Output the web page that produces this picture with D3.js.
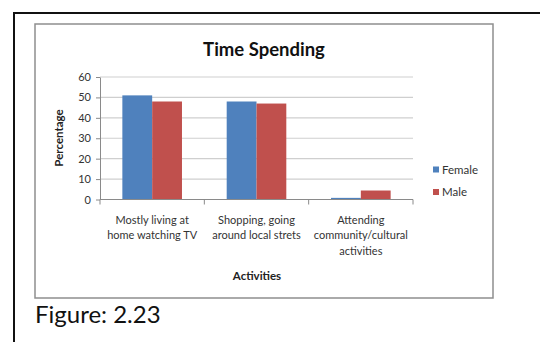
<!DOCTYPE html>
<html>
<head>
<meta charset="utf-8">
<script src="https://cdn.jsdelivr.net/npm/d3@7"></script>
<style>
  html, body { margin: 0; padding: 0; background: #fff; }
  svg { display: block; font-family: Lato, "Open Sans", sans-serif; }
</style>
</head>
<body>
<svg id="chart" width="540" height="342"></svg>
<script>
// Survey data: share of respondents by leisure activity
const categories = [
  ["Mostly living at", "home watching TV"],
  ["Shopping, going", "around local strets"],
  ["Attending", "community/cultural", "activities"]
];
const seriesNames = ["Female", "Male"];
const femaleValues = [51, 48, 0.8];
const maleValues = [48, 47, 4.4];
const yTicks = [0, 10, 20, 30, 40, 50, 60];
const seriesColors = ["#4f81bd", "#c0504d"];

const svg = d3.select("#chart");

// Page frame and chart container
svg.append("path")
  .attr("d", "M14,342 L14,13 L540,13")
  .attr("fill", "none")
  .attr("stroke", "#111")
  .attr("stroke-width", 2);

svg.append("rect")
  .attr("x", 35).attr("y", 24)
  .attr("width", 458).attr("height", 274)
  .attr("fill", "#fff")
  .attr("stroke", "#8e8e8e")
  .attr("stroke-width", 1.5);

svg.append("text")
  .attr("x", 35).attr("y", 323)
  .attr("font-size", 24)
  .attr("fill", "#111")
  .text("Figure: 2.23");

// Plot area
const plot = { left: 100, right: 413, top: 77, bottom: 199.5 };

const x = d3.scaleBand()
  .domain(d3.range(categories.length))
  .range([plot.left, plot.right])
  .paddingInner(0).paddingOuter(0);

const y = d3.scaleLinear()
  .domain([0, 60])
  .range([plot.bottom, plot.top]);

// Excel-style clustered bars with 150% gap width
const gapRatio = 1.5;
const barW = x.bandwidth() / (seriesNames.length + gapRatio);
const inner = d3.scaleBand()
  .domain(seriesNames)
  .range([barW * gapRatio / 2, barW * gapRatio / 2 + barW * seriesNames.length]);

// Gridlines
svg.append("g")
  .selectAll("line")
  .data(yTicks.filter(d => d > 0))
  .join("line")
  .attr("x1", plot.left).attr("x2", plot.right)
  .attr("y1", d => y(d)).attr("y2", d => y(d))
  .attr("stroke", "#cfcfcf")
  .attr("stroke-width", 1.2);

// Y axis
const yAxis = svg.append("g")
  .attr("transform", `translate(${plot.left},0)`)
  .call(d3.axisLeft(y).tickValues(yTicks).tickSize(4).tickSizeOuter(0).tickPadding(5));
yAxis.select(".domain").attr("stroke", "#8a8a8a");
yAxis.selectAll(".tick line").attr("stroke", "#8a8a8a");
yAxis.selectAll(".tick text")
  .attr("font-family", "Lato, sans-serif")
  .attr("font-size", 11)
  .attr("fill", "#333");

// Bars
const data = categories.map((c, i) => ({ i, values: [femaleValues[i], maleValues[i]] }));
const groups = svg.append("g").selectAll("g")
  .data(data)
  .join("g")
  .attr("transform", d => `translate(${x(d.i)},0)`);
groups.selectAll("rect")
  .data(d => d.values.map((v, k) => ({ name: seriesNames[k], v, k })))
  .join("rect")
  .attr("x", d => inner(d.name))
  .attr("width", inner.bandwidth())
  .attr("y", d => y(d.v))
  .attr("height", d => y(0) - y(d.v))
  .attr("fill", d => seriesColors[d.k]);

// X axis with ticks between categories
const xAxisG = svg.append("g");
xAxisG.append("line")
  .attr("x1", plot.left).attr("x2", plot.right)
  .attr("y1", y(0)).attr("y2", y(0))
  .attr("stroke", "#8a8a8a");
xAxisG.selectAll("line.tk")
  .data(d3.range(categories.length + 1))
  .join("line")
  .attr("class", "tk")
  .attr("x1", i => i < categories.length ? x(i) : plot.right)
  .attr("x2", i => i < categories.length ? x(i) : plot.right)
  .attr("y1", y(0)).attr("y2", y(0) + 5)
  .attr("stroke", "#8a8a8a");

const catLabels = svg.append("g")
  .selectAll("text")
  .data(data)
  .join("text")
  .attr("text-anchor", "middle")
  .attr("font-size", 11)
  .attr("fill", "#333");
catLabels.selectAll("tspan")
  .data(d => categories[d.i].map(line => ({ line, cx: x(d.i) + x.bandwidth() / 2 })))
  .join("tspan")
  .attr("x", d => d.cx)
  .attr("y", (d, j) => 224 + j * 15.3)
  .text(d => d.line);

// Titles
svg.append("text")
  .attr("x", 264).attr("y", 56)
  .attr("text-anchor", "middle")
  .attr("font-size", 18.5)
  .attr("font-weight", "bold")
  .attr("fill", "#111")
  .text("Time Spending");

svg.append("text")
  .attr("x", 257).attr("y", 280)
  .attr("text-anchor", "middle")
  .attr("font-size", 11.5)
  .attr("font-weight", "bold")
  .attr("fill", "#222")
  .text("Activities");

svg.append("text")
  .attr("transform", "translate(63,138) rotate(-90)")
  .attr("text-anchor", "middle")
  .attr("font-size", 11.5)
  .attr("font-weight", "bold")
  .attr("fill", "#222")
  .text("Percentage");

// Legend
const legend = svg.append("g").selectAll("g")
  .data(seriesNames)
  .join("g")
  .attr("transform", (d, i) => `translate(433,${169.5 + i * 22.5})`);
legend.append("rect")
  .attr("x", 0).attr("y", -3)
  .attr("width", 6).attr("height", 6)
  .attr("fill", (d, i) => seriesColors[i]);
legend.append("text")
  .attr("x", 9).attr("y", 4)
  .attr("font-size", 11.5)
  .attr("fill", "#333")
  .text(d => d);
</script>
</body>
</html>
